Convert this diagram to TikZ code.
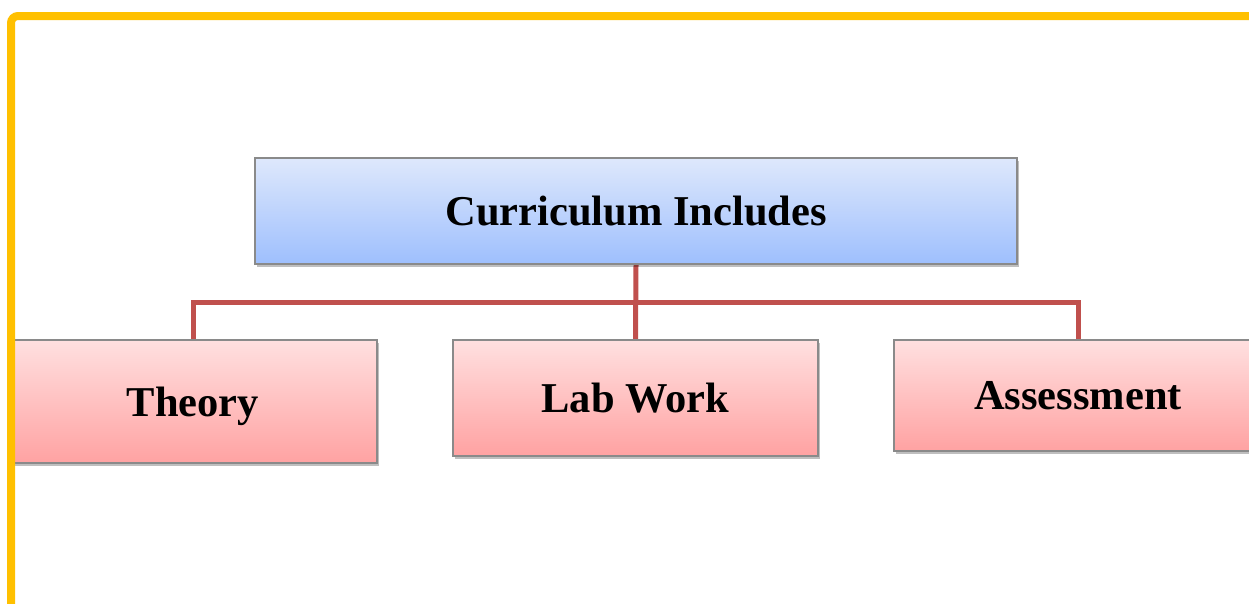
\documentclass[tikz,border=0pt]{standalone}
\usepackage{fontspec}
\setmainfont{Liberation Serif}
\usetikzlibrary{shadows,backgrounds}
\definecolor{frameyellow}{HTML}{FFC000}
\definecolor{linkred}{HTML}{C0504D}
\definecolor{bluetop}{HTML}{DEE8FC}
\definecolor{bluebot}{HTML}{9EBFFD}
\definecolor{pinktop}{HTML}{FFE0E0}
\definecolor{pinkbot}{HTML}{FFA2A2}
\definecolor{boxline}{HTML}{8A8A8A}
\tikzset{
  basebox/.style={draw=boxline, line width=1.5pt, inner sep=0pt,
    font=\fontsize{42.5}{50}\selectfont\bfseries,
    drop shadow={shadow xshift=2pt, shadow yshift=-3pt, fill=black, opacity=0.25}},
  topbox/.style={basebox, top color=bluetop, bottom color=bluebot},
  subbox/.style={basebox, top color=pinktop, bottom color=pinkbot},
  link/.style={draw=linkred, line width=5pt}
}
\begin{document}
\begin{tikzpicture}[x=1pt,y=-1pt]
\useasboundingbox (0,0) rectangle (1249,603);
\clip (0,0) rectangle (1249,603);
\node[topbox, minimum width=762pt, minimum height=106pt] (top) at (636,211) {Curriculum Includes};
\node[subbox, minimum width=368pt, minimum height=123pt] (theory) at (193,401.5) {\raisebox{-5pt}[\height][\depth]{Theory}};
\node[subbox, minimum width=365pt, minimum height=116pt] (lab) at (635.5,398) {Lab Work};
\node[subbox, minimum width=368pt, minimum height=111pt] (assess) at (1078,395.5) {Assessment};
\coordinate (bus) at (636,302);
\begin{scope}[on background layer]
\fill[white] (0,0) rectangle (1249,603);
\draw[link] (top.south) -- (lab.north);
\draw[link] (theory.north) |- (bus) -| (assess.north);
\end{scope}
\draw[frameyellow, line width=8pt, rounded corners=7pt] (11,640) -- (11,16) -- (1290,16);
\end{tikzpicture}
\end{document}
